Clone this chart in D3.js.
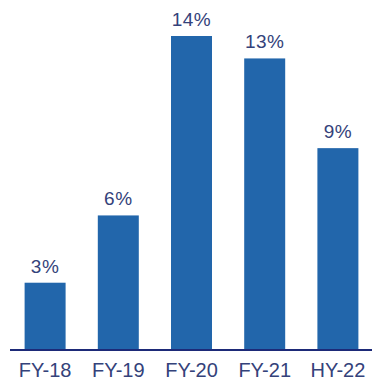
<!DOCTYPE html>
<html>
<head>
<meta charset="utf-8">
<script src="https://cdn.jsdelivr.net/npm/d3@7"></script>
<style>
  html, body { margin: 0; padding: 0; background: #fff; }
  svg { display: block; }
</style>
</head>
<body>
<svg id="chart" width="372" height="381"></svg>
<script>
// Growth by period (%)
const periods = ["FY-18", "FY-19", "FY-20", "FY-21", "HY-22"];
const growth = [3, 6, 14, 13, 9];
const valueLabels = ["3%", "6%", "14%", "13%", "9%"];

const svg = d3.select("#chart");
const baseline = 350;
const textColor = "#34427a";
const font = "Liberation Sans, Arial, sans-serif";

const x = d3.scaleBand()
  .domain(periods)
  .range([8.5, 374.5])
  .paddingInner(0.44)
  .paddingOuter(0.22);

const y = d3.scaleLinear()
  .domain([0, 14])
  .range([baseline, 36]);

svg.selectAll("rect.bar")
  .data(periods)
  .join("rect")
  .attr("class", "bar")
  .attr("x", d => x(d))
  .attr("width", x.bandwidth())
  .attr("y", (d, i) => y(growth[i]))
  .attr("height", (d, i) => baseline - y(growth[i]))
  .attr("fill", "#2266ab");

svg.selectAll("text.val")
  .data(periods)
  .join("text")
  .attr("class", "val")
  .attr("x", d => x(d) + x.bandwidth() / 2)
  .attr("y", (d, i) => y(growth[i]) - 10)
  .attr("text-anchor", "middle")
  .attr("font-family", font)
  .attr("font-size", 19)
  .attr("letter-spacing", 0.5)
  .attr("fill", textColor)
  .text((d, i) => valueLabels[i]);

// Category axis along the baseline
const axis = svg.append("g")
  .attr("transform", `translate(0,${baseline})`)
  .call(d3.axisBottom(x).tickSize(0).tickPadding(12.5));
axis.select(".domain")
  .attr("d", `M10,0H372`)
  .attr("stroke", "#1d2a78")
  .attr("stroke-width", 2);
axis.selectAll("text")
  .attr("font-family", font)
  .attr("font-size", 20)
  .attr("fill", textColor);
</script>
</body>
</html>
